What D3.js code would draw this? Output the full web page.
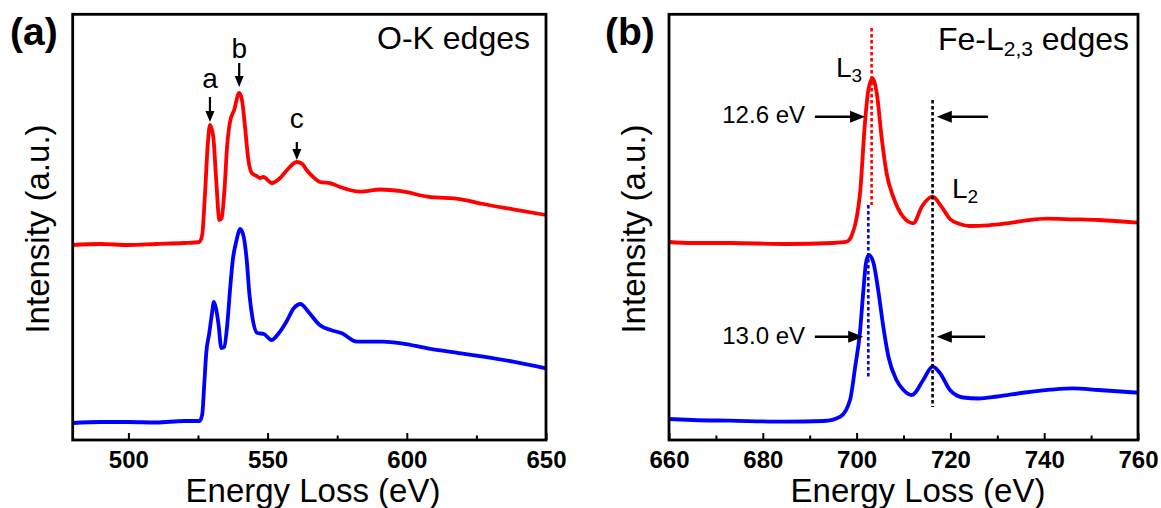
<!DOCTYPE html>
<html><head><meta charset="utf-8">
<script src="https://cdn.jsdelivr.net/npm/d3@7"></script>
<style>
body{margin:0;background:#fff}
svg{display:block}
text{font-family:"Liberation Sans",Arial,Helvetica,sans-serif;fill:#000}
</style>
</head><body>
<svg id="chart" width="1161" height="508"></svg>
<script>
// ---------------- DATA (intensity in arbitrary units) ----------------
// Panel (a): O-K edges
const oRedEnergy = [480,490,500,510,520,525.5,526.5,527.5,528.5,529.3,530.5,531.5,532.7,533.5,534.5,535.5,536.5,538,539.8,540.8,541.9,543.1,544.3,546,547.3,548.5,551.5,554.5,557,560.5,562.5,564,566,568.8,572.7,576,583.2,590.4,598,607.5,619.5,627.5,638.2,650];
const oRedIntensity = [195,196,195,196,197,198,205,245,295,315,303,262,220,222,250,295,318,330,347,340,313,280,267,264,262,263,257,262,270,278,276,270,264,258,256.7,253,248.3,250.5,248.8,243.3,240.7,236,230.7,225];
const oBlueEnergy = [480,490,500,510,520,525.5,526.5,527.3,528,529,530,530.7,531.6,532.4,533.4,534.4,535.5,536.5,537.5,538.7,540.2,541.5,542.5,543.5,544.7,546.3,548.7,551.4,554,556.7,559.4,561.8,564.7,568.7,572.7,576.7,582.1,591.4,598.1,607.5,619.5,627.5,638.2,650];
const oBlueIntensity = [17,18,18,17.5,19,19,25,58,88,106,126,138,130,115,92,93,115,150,180,198,211,202,180,145,120,107,106,100,106.7,118,131.7,136,128,115,110,106.7,98.3,98.3,96.7,91.7,86.7,83.3,78.3,71.7];
const oTicksMajor = [500,550,600,650];
const oTicksMinor = [525,575,625];
const oPeakLabels = ["a","b","c"];
const oPeakEnergy = [529.3,539.8,560.5];
const oPeakArrowTop = [343,377,298];
const oPeakArrowTip = [318,353,280];
const oPeakLabelY = [352,382,312];

// Panel (b): Fe-L2,3 edges
const feRedEnergy = [660,665,673,685,695,697.9,699,700,700.7,701.8,702.5,703.4,704.3,705.4,706.4,707.8,709.9,712.1,713.9,716.2,718.1,719.9,722,724.1,728.1,732,735.9,740.6,746.1,751.6,760];
const feRedIntensity = [198,197,197,196,197,198.3,205,222,245,318,350,361.7,346.7,300,266.7,243.3,223.3,216.7,233.3,243.3,233.3,221,216,214,214.7,216.7,219.3,221.3,220.7,220,217.3];
const feBlueEnergy = [660,665,673,685,693,696.5,698.6,699.7,700.7,701.4,702,702.6,703.6,704.6,705.7,706.8,708.5,710,711.8,714.2,716.2,717.8,719.9,722.7,726,730,735.9,741.4,746.1,751.6,760];
const feBlueIntensity = [21,20,19.3,18.3,19,23.3,40,73.3,107,147,177,185,177,150,113,83,60,50,45,60,73.3,66.7,50,42.5,41.5,43.5,47.5,50.3,51.7,50,47.3];
const feTicksMajor = [660,680,700,720,740,760];
const feTicksMinor = [670,690,710,730,750];
// dotted guide lines: energy, from, to, colour
const feGuideEnergy = [703.2,702.5,716.2];
const feGuideFrom = [412,235,340];
const feGuideTo = [235,62,33];
const feGuideColor = ["#ff0000","#0000ff","#000000"];
// FWHM annotations
const fwhmLabels = ["12.6 eV","13.0 eV"];
const fwhmLevel = [323.3,103.3];
const fwhmLeftTail = [691.1,691.1];
const fwhmLeftTip = [701.8,701.4];
const fwhmRightTail = [728.0,727.4];
const fwhmRightTip = [717.1,717.1];
const fwhmTextEnd = 689.0;
const fwhmTextDrop = [-6.6,-7];

// ---------------- LAYOUT ----------------
const svg = d3.select("#chart");
const plotTop = 14.3, plotBottom = 440;
const panelA = {left:72.7, right:546};
const panelB = {left:669, right:1138};
const RED = "#ff0000", BLUE = "#0000ff";

const xA = d3.scaleLinear().domain([480,650]).range([panelA.left, panelA.right]);
const xB = d3.scaleLinear().domain([660,760]).range([panelB.left, panelB.right]);
const y = d3.scaleLinear().domain([0,425.7]).range([plotBottom, plotTop]);

function zip(xs, ys){ return xs.map((v,i)=>[v, ys[i]]); }

function drawPanel(x, p, red, blue, major, minor, titleX, ytitleX){
  const g = svg.append("g");
  const line = d3.line().x(d=>x(d[0])).y(d=>y(d[1])).curve(d3.curveMonotoneX);
  g.append("path").datum(red).attr("d", line).attr("fill","none").attr("stroke",RED).attr("stroke-width",3.8).attr("stroke-linejoin","round");
  g.append("path").datum(blue).attr("d", line).attr("fill","none").attr("stroke",BLUE).attr("stroke-width",3.8).attr("stroke-linejoin","round");

  const ax = g.append("g").attr("transform",`translate(0,${plotBottom})`)
    .call(d3.axisBottom(x).tickValues(major).tickSize(-7).tickPadding(11).tickFormat(d3.format("d")));
  ax.select(".domain").remove();
  ax.selectAll(".tick line").attr("stroke","#000").attr("stroke-width",2);
  ax.selectAll(".tick text").style("font-size","24px").style("font-weight","bold").attr("fill","#000")
    .style("font-family","'Liberation Sans',Arial,sans-serif");
  const axm = g.append("g").attr("transform",`translate(0,${plotBottom})`)
    .call(d3.axisBottom(x).tickValues(minor).tickSize(-4.5).tickFormat(""));
  axm.select(".domain").remove();
  axm.selectAll(".tick line").attr("stroke","#000").attr("stroke-width",2);

  g.append("rect").attr("x",p.left).attr("y",plotTop).attr("width",p.right-p.left).attr("height",plotBottom-plotTop)
    .attr("fill","none").attr("stroke","#000").attr("stroke-width",2.8);

  g.append("text").attr("x",titleX).attr("y",502).attr("text-anchor","middle").style("font-size","33px").text("Energy Loss (eV)");
  g.append("text").attr("transform",`translate(${ytitleX},229) rotate(-90)`).attr("text-anchor","middle").style("font-size","33px").text("Intensity (a.u.)");
  return g;
}

function arrowDown(g, x0, y0, y1, len, hw){
  g.append("line").attr("x1",x0).attr("x2",x0).attr("y1",y0).attr("y2",y1-len+1).attr("stroke","#000").attr("stroke-width",2.2);
  g.append("path").attr("d",`M${x0},${y1} L${x0-hw},${y1-len} L${x0+hw},${y1-len} Z`).attr("fill","#000");
}
function arrowH(g, x0, x1, yy, len, hw){
  const dir = x1 > x0 ? 1 : -1;
  g.append("line").attr("x1",x0).attr("x2",x1-dir*(len-1)).attr("y1",yy).attr("y2",yy).attr("stroke","#000").attr("stroke-width",2.6);
  g.append("path").attr("d",`M${x1},${yy} L${x1-dir*len},${yy-hw} L${x1-dir*len},${yy+hw} Z`).attr("fill","#000");
}

// ---------------- PANEL A ----------------
const gA = drawPanel(xA, panelA, zip(oRedEnergy,oRedIntensity), zip(oBlueEnergy,oBlueIntensity), oTicksMajor, oTicksMinor, 313, 48.5);
gA.append("text").attr("x",10).attr("y",45).style("font-size","39px").style("font-weight","bold").text("(a)");
gA.append("text").attr("x",530).attr("y",49).attr("text-anchor","end").style("font-size","32px").text("O-K edges");
oPeakLabels.forEach((lab,i)=>{
  const xx = xA(oPeakEnergy[i]);
  arrowDown(gA, xx, y(oPeakArrowTop[i]), y(oPeakArrowTip[i]), 11, 4.5);
  gA.append("text").attr("x",xx).attr("y",y(oPeakLabelY[i])).attr("text-anchor","middle").style("font-size","28px").text(lab);
});

// ---------------- PANEL B ----------------
const gB = drawPanel(xB, panelB, zip(feRedEnergy,feRedIntensity), zip(feBlueEnergy,feBlueIntensity), feTicksMajor, feTicksMinor, 918, 645);
gB.append("text").attr("x",605).attr("y",45).style("font-size","39px").style("font-weight","bold").text("(b)");
const ft = gB.append("text").attr("x",1129).attr("y",50).attr("text-anchor","end").style("font-size","32px");
ft.append("tspan").text("Fe-L");
ft.append("tspan").attr("dy",6).style("font-size","21px").text("2,3");
ft.append("tspan").attr("dy",-6).text(" edges");

feGuideEnergy.forEach((e,i)=>{
  gB.append("line").attr("x1",xB(e)).attr("x2",xB(e)).attr("y1",y(feGuideFrom[i])).attr("y2",y(feGuideTo[i]))
    .attr("stroke",feGuideColor[i]).attr("stroke-width",2.6).attr("stroke-dasharray","3.5,2.5");
});

fwhmLabels.forEach((lab,i)=>{
  const yy = y(fwhmLevel[i]);
  arrowH(gB, xB(fwhmLeftTail[i]), xB(fwhmLeftTip[i]), yy, 15, 6);
  arrowH(gB, xB(fwhmRightTail[i]), xB(fwhmRightTip[i]), yy, 15, 6);
  gB.append("text").attr("x",xB(fwhmTextEnd)).attr("y",yy - fwhmTextDrop[i]).attr("text-anchor","end").style("font-size","24px").text(lab);
});

const l3 = gB.append("text").attr("x",836).attr("y",77).style("font-size","28px");
l3.append("tspan").text("L");
l3.append("tspan").attr("dy",5).style("font-size","19px").text("3");
const l2 = gB.append("text").attr("x",952).attr("y",198).style("font-size","28px");
l2.append("tspan").text("L");
l2.append("tspan").attr("dy",5).style("font-size","19px").text("2");
</script>
</body></html>
